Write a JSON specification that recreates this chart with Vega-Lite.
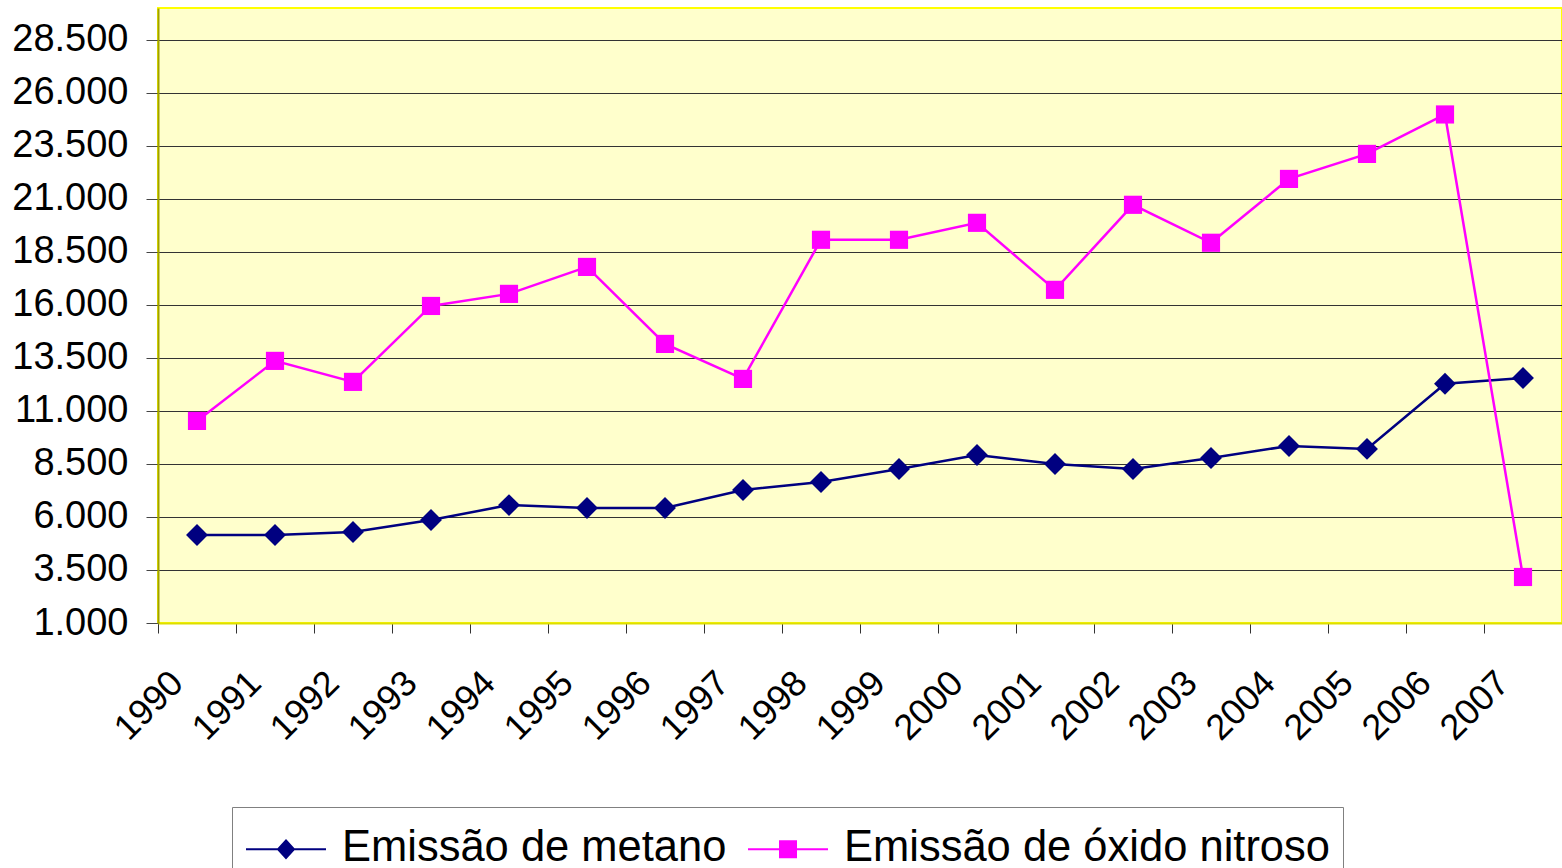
{
  "$schema": "https://vega.github.io/schema/vega-lite/v6.json",
  "width": 1404,
  "height": 615,
  "autosize": {"type": "none"},
  "padding": {"left": 158, "top": 8, "right": 0, "bottom": 245},
  "background": "white",
  "config": {
    "view": {"fill": "#FFFFCC", "stroke": "#FFFF00", "strokeWidth": 2},
    "font": "Liberation Sans",
    "legend": {
      "orient": "none",
      "legendX": 74,
      "legendY": 799,
      "direction": "horizontal",
      "symbolSize": 6400,
      "symbolStrokeWidth": 2,
      "symbolOpacity": 1,
      "labelFontSize": 43.5,
      "labelFont": "Liberation Sans",
      "labelColor": "black",
      "labelBaseline": "alphabetic",
      "labelLimit": 0,
      "labelOffset": 15,
      "columnPadding": 17,
      "padding": 13,
      "strokeColor": "#808080",
      "fillColor": "white"
    }
  },
  "data": {
    "values": [
      {"ano": "1990", "serie": "Emissão de metano", "valor": 5150},
      {"ano": "1991", "serie": "Emissão de metano", "valor": 5150},
      {"ano": "1992", "serie": "Emissão de metano", "valor": 5290},
      {"ano": "1993", "serie": "Emissão de metano", "valor": 5860},
      {"ano": "1994", "serie": "Emissão de metano", "valor": 6560},
      {"ano": "1995", "serie": "Emissão de metano", "valor": 6425},
      {"ano": "1996", "serie": "Emissão de metano", "valor": 6425},
      {"ano": "1997", "serie": "Emissão de metano", "valor": 7270},
      {"ano": "1998", "serie": "Emissão de metano", "valor": 7650},
      {"ano": "1999", "serie": "Emissão de metano", "valor": 8260},
      {"ano": "2000", "serie": "Emissão de metano", "valor": 8920},
      {"ano": "2001", "serie": "Emissão de metano", "valor": 8500},
      {"ano": "2002", "serie": "Emissão de metano", "valor": 8260},
      {"ano": "2003", "serie": "Emissão de metano", "valor": 8780},
      {"ano": "2004", "serie": "Emissão de metano", "valor": 9350},
      {"ano": "2005", "serie": "Emissão de metano", "valor": 9210},
      {"ano": "2006", "serie": "Emissão de metano", "valor": 12280},
      {"ano": "2007", "serie": "Emissão de metano", "valor": 12550},
      {"ano": "1990", "serie": "Emissão de óxido nitroso", "valor": 10530},
      {"ano": "1991", "serie": "Emissão de óxido nitroso", "valor": 13360},
      {"ano": "1992", "serie": "Emissão de óxido nitroso", "valor": 12370},
      {"ano": "1993", "serie": "Emissão de óxido nitroso", "valor": 15950},
      {"ano": "1994", "serie": "Emissão de óxido nitroso", "valor": 16520},
      {"ano": "1995", "serie": "Emissão de óxido nitroso", "valor": 17790},
      {"ano": "1996", "serie": "Emissão de óxido nitroso", "valor": 14160},
      {"ano": "1997", "serie": "Emissão de óxido nitroso", "valor": 12510},
      {"ano": "1998", "serie": "Emissão de óxido nitroso", "valor": 19070},
      {"ano": "1999", "serie": "Emissão de óxido nitroso", "valor": 19070},
      {"ano": "2000", "serie": "Emissão de óxido nitroso", "valor": 19870},
      {"ano": "2001", "serie": "Emissão de óxido nitroso", "valor": 16710},
      {"ano": "2002", "serie": "Emissão de óxido nitroso", "valor": 20720},
      {"ano": "2003", "serie": "Emissão de óxido nitroso", "valor": 18930},
      {"ano": "2004", "serie": "Emissão de óxido nitroso", "valor": 21940},
      {"ano": "2005", "serie": "Emissão de óxido nitroso", "valor": 23120},
      {"ano": "2006", "serie": "Emissão de óxido nitroso", "valor": 24980},
      {"ano": "2007", "serie": "Emissão de óxido nitroso", "valor": 3170}
    ]
  },
  "encoding": {
    "x": {
      "field": "ano",
      "type": "ordinal",
      "title": null,
      "scale": {"paddingInner": 0, "paddingOuter": 0},
      "axis": {
        "tickBand": "extent",
        "labelAngle": -45,
        "labelAlign": "right",
        "labelBaseline": "middle",
        "labelFontSize": 36,
        "labelFont": "Liberation Sans",
        "labelColor": "black",
        "labelPadding": 44,
        "labelOffset": -20,
        "tickSize": 10,
        "tickColor": "#333333",
        "domainColor": "#DDDD00",
        "domainWidth": 2,
        "grid": false
      }
    },
    "y": {
      "field": "valor",
      "type": "quantitative",
      "title": null,
      "scale": {"domain": [1000, 30000], "nice": false, "zero": false},
      "axis": {
        "values": [1000, 3500, 6000, 8500, 11000, 13500, 16000, 18500, 21000, 23500, 26000, 28500],
        "labelExpr": "replace(format(datum.value, ',d'), ',', '.')",
        "labelFontSize": 38,
        "labelFont": "Liberation Sans",
        "labelColor": "black",
        "labelPadding": 18,
        "tickSize": 12,
        "tickColor": "#444444",
        "domainColor": "#A0A000",
        "domainWidth": 2,
        "grid": true,
        "gridColor": "#333333",
        "gridWidth": 1
      }
    }
  },
  "layer": [
    {
      "mark": {"type": "line", "strokeWidth": 2.5},
      "encoding": {
        "color": {
          "field": "serie",
          "type": "nominal",
          "legend": null,
          "scale": {"domain": ["Emissão de metano", "Emissão de óxido nitroso"], "range": ["#000080", "#FF00FF"]}
        }
      }
    },
    {
      "mark": {"type": "point", "filled": true, "opacity": 1},
      "encoding": {
        "color": {
          "field": "serie",
          "type": "nominal",
          "legend": null,
          "scale": {"domain": ["Emissão de metano", "Emissão de óxido nitroso"], "range": ["#000080", "#FF00FF"]}
        },
        "shape": {
          "field": "serie",
          "type": "nominal",
          "scale": {"domain": ["Emissão de metano", "Emissão de óxido nitroso"], "range": ["diamond", "square"]},
          "legend": null
        },
        "size": {
          "field": "serie",
          "type": "nominal",
          "scale": {"domain": ["Emissão de metano", "Emissão de óxido nitroso"], "range": [480, 330]},
          "legend": null
        }
      }
    },
    {
      "mark": {"type": "point", "opacity": 0},
      "encoding": {
        "fill": {
          "field": "serie",
          "type": "nominal",
          "title": null,
          "scale": {"domain": ["Emissão de metano", "Emissão de óxido nitroso"], "range": ["#000080", "#FF00FF"]}
        },
        "stroke": {
          "field": "serie",
          "type": "nominal",
          "title": null,
          "scale": {"domain": ["Emissão de metano", "Emissão de óxido nitroso"], "range": ["#000080", "#FF00FF"]}
        },
        "shape": {
          "field": "serie",
          "type": "nominal",
          "title": null,
          "scale": {
            "domain": ["Emissão de metano", "Emissão de óxido nitroso"],
            "range": ["M-1,-0.3L1,-0.3M0,-0.52L0.2,-0.3L0,-0.08L-0.2,-0.3Z", "M-1,-0.3L1,-0.3M-0.2,-0.5L0.2,-0.5L0.2,-0.1L-0.2,-0.1Z"]
          }
        }
      }
    }
  ],
  "resolve": {"scale": {"shape": "independent", "size": "independent", "fill": "independent", "stroke": "independent", "color": "independent"}}
}
